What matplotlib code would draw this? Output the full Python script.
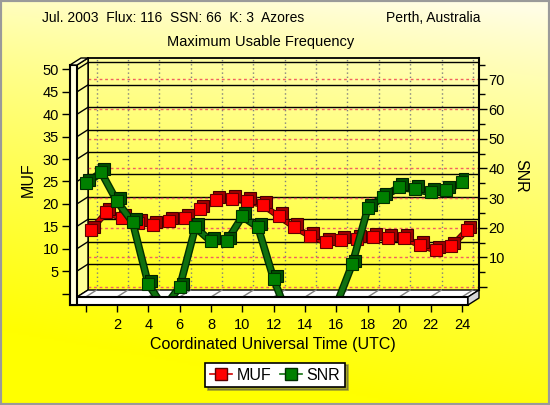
import numpy as np
import matplotlib
matplotlib.use('Agg')
import matplotlib.pyplot as plt
from matplotlib.patches import Polygon, Rectangle
from matplotlib.lines import Line2D
import matplotlib.patheffects as pe
import matplotlib.transforms as mtransforms

plt.rcParams['font.family'] = ['Liberation Sans', 'DejaVu Sans']

# data
hours = list(range(25))
muf = [14.1, 18.1, 16.8, 15.7, 15.4, 16.1, 16.8, 18.8, 20.8, 21.0, 20.6, 19.7, 17.2,
       14.8, 12.8, 11.4, 11.9, 12.1, 12.5, 12.3, 12.3, 10.8, 9.6, 10.5, 14.1]
snr = [34.9, 38.6, 28.9, 21.8, 0.9, -7.0, 0.0, 20.1, 15.4, 15.4, 23.8, 20.1, 2.6,
       -11.0, -18.0, -18.0, -6.0, 7.6, 26.5, 30.5, 33.6, 32.9, 31.9, 32.6, 35.3]
hour_ticks = list(range(0, 25, 2))
hour_labels = [''] + [str(h) for h in hour_ticks[1:]]
muf_ticks = list(range(0, 51, 5))
muf_labels = [''] + [str(m) for m in muf_ticks[1:]]
snr_ticks = list(range(0, 71, 10))
snr_labels = [''] + [str(s) for s in snr_ticks[1:]]

title_left = 'Jul. 2003  Flux: 116  SSN: 66  K: 3  Azores'
title_right = 'Perth, Australia'
title_mid = 'Maximum Usable Frequency'

W, H = 550, 405
fig = plt.figure(figsize=(W / 100, H / 100), dpi=100)


def box(x0, y0, x1, y1):
    # pixel box (top-down y) -> figure fraction rect
    return [x0 / W, 1 - y1 / H, (x1 - x0) / W, (y1 - y0) / H]


# background gradient
bg = fig.add_axes([0, 0, 1, 1], zorder=0)
yy, xx = np.mgrid[0:1:200j, 0:1:200j]
t = np.clip(yy ** 0.8 + 0.2 * (1 - xx) - 0.05, 0, 1)[..., None]
top = np.array([1.0, 0.995, 0.90])
bot = np.array([1.0, 1.0, 0.0])
bg.imshow((1 - t) * top + t * bot, aspect='auto', extent=[0, 1, 0, 1])
bg.set_axis_off()

# pixel overlays for the 3D walls
under = fig.add_axes([0, 0, 1, 1], zorder=1)
over = fig.add_axes([0, 0, 1, 1], zorder=3)
for a in (under, over):
    a.set_xlim(0, W)
    a.set_ylim(0, H)
    a.set_axis_off()
    a.patch.set_alpha(0)

XL = (-0.55, 24.39)
YL = (-0.78, 51.0)

# back wall
axb = fig.add_axes(box(88, 58, 479, 290), zorder=0.5)
axb.patch.set_alpha(0)
axb.set_xlim(*XL)
axb.set_ylim(*YL)
axb.set_xticks(hour_ticks)
axb.set_yticks(muf_ticks[1:])
axb.tick_params(length=0, labelbottom=False, labelleft=False)
axb.grid(axis='x', color='#7f7f7f', ls=(0, (1, 2)), lw=1)
axb.grid(axis='y', color='black', ls='-', lw=1)
for s in ('bottom', 'right'):
    axb.spines[s].set_visible(False)
for s in ('top', 'left'):
    axb.spines[s].set_linewidth(1.3)

axs = axb.twinx()
axs.set_zorder(0.6)
axs.patch.set_alpha(0)
axs.set_ylim(-1.01, 77.2)
axs.set_yticks(snr_ticks)
axs.set_yticklabels(snr_labels, fontsize=10.5)
axs.set_yticks(list(range(5, 76, 10)), minor=True)
axs.tick_params(axis='y', which='major', length=6, width=1, pad=1)
axs.tick_params(axis='y', which='minor', length=4, width=1)
axs.grid(axis='y', which='major', color='#f06060', ls=(0, (2, 2)), lw=1)
for s in ('top', 'bottom', 'left'):
    axs.spines[s].set_visible(False)
axs.spines['right'].set_linewidth(1.5)

# front frame with the data
axf = fig.add_axes(box(77, 65, 468, 297), zorder=2)
axf.patch.set_alpha(0)
axf.set_xlim(*XL)
axf.set_ylim(*YL)
axf.set_xticks(hour_ticks)
axf.set_xticklabels(hour_labels, fontsize=10.5)
axf.set_yticks(muf_ticks)
axf.set_yticklabels(muf_labels, fontsize=10.5)
axf.tick_params(axis='y', length=11, width=1, pad=2)
axf.tick_params(axis='x', length=11, width=1, pad=4)
for s in axf.spines.values():
    s.set_visible(False)

axg = axf.twinx()
axg.set_zorder(2.1)
axg.patch.set_alpha(0)
axg.set_ylim(-3.37, 74.82)
axg.set_axis_off()

depth = mtransforms.ScaledTranslation(0.03, 0.03, fig.dpi_scale_trans)
shift_r = mtransforms.ScaledTranslation(0.05, 0.0, fig.dpi_scale_trans)

# MUF series
tr = axf.transData + shift_r
axf.plot(hours, muf, color='#d00000', lw=3, transform=tr, zorder=2, clip_on=False,
         path_effects=[pe.Stroke(linewidth=4.5, foreground='#500000'), pe.Normal()])
axf.plot(hours, muf, ls='none', marker='s', ms=9, mfc='#a00000', mec='#400000',
         mew=0.8, transform=tr + depth, zorder=3, clip_on=False)
axf.plot(hours, muf, ls='none', marker='s', ms=9, mfc='#ff0000', mec='#600000',
         mew=0.8, transform=tr, zorder=4, clip_on=False)

# SNR series
axg.plot(hours, snr, color='#107010', lw=3.5, zorder=2,
         path_effects=[pe.Stroke(linewidth=5.5, foreground='#003000'), pe.Normal()])
axg.plot(hours, snr, ls='none', marker='s', ms=9, mfc='#005000', mec='#002000',
         mew=0.8, transform=axg.transData + depth, zorder=3)
axg.plot(hours, snr, ls='none', marker='s', ms=9, mfc='#008000', mec='#003000',
         mew=0.8, zorder=4)


def P(x, y):
    return (x, H - y)


# left wall side face and floor top (behind data)
under.add_patch(Polygon([P(77, 65), P(88, 58), P(88, 290), P(77, 297)],
                        closed=True, fc='#ffff99', ec='black', lw=1))
under.add_patch(Polygon([P(77, 297), P(88, 290), P(479, 290), P(468, 297)],
                        closed=True, fc='white', ec='black', lw=1))
fig.canvas.draw()
for m in muf_ticks[1:]:
    fx, fy = axf.transData.transform((XL[0], m))
    bx, by = axb.transData.transform((XL[0], m))
    under.plot([fx, bx], [fy, by], color='black', lw=1)
for h in hour_ticks:
    fx, fy = axf.transData.transform((h, YL[0]))
    bx, by = axb.transData.transform((h, YL[0]))
    under.plot([fx, bx], [fy, by], color='#808080', lw=1)

# front faces (over data)
over.add_patch(Rectangle(P(70, 305), 398, 8, fc='white', ec='black', lw=1.5))
over.add_patch(Polygon([P(468, 297), P(479, 290), P(479, 298), P(468, 305)],
                       closed=True, fc='#d8d8d8', ec='black', lw=1))
over.add_patch(Rectangle(P(70, 305), 7, 240, fc='#ffffe0', ec='black', lw=1.5))
over.add_patch(Polygon([P(70, 65), P(77, 65), P(88, 58), P(81, 58)],
                       closed=True, fc='#ffffcc', ec='black', lw=1))

# texts
fig.text(42 / W, 1 - 18 / H, title_left, ha='left', va='center', fontsize=10)
fig.text(481 / W, 1 - 18 / H, title_right, ha='right', va='center', fontsize=10)
fig.text(261 / W, 1 - 42 / H, title_mid, ha='center', va='center', fontsize=10.5)
fig.text(273 / W, 1 - 344 / H, 'Coordinated Universal Time (UTC)', ha='center',
         va='center', fontsize=11.5)
fig.text(28 / W, 1 - 180 / H, 'MUF', rotation=90, ha='center', va='center', fontsize=11.5)
fig.text(521 / W, 1 - 176 / H, 'SNR', rotation=270, ha='center', va='center', fontsize=11.5)

handles = [Line2D([0], [0], color='#d00000', lw=1.2, marker='s', ms=8,
                  mfc='#ff0000', mec='#600000'),
           Line2D([0], [0], color='#107010', lw=1.2, marker='s', ms=8,
                  mfc='#008000', mec='#003000')]
leg = fig.legend(handles, ['MUF', 'SNR'], loc='center',
                 bbox_to_anchor=(275 / W, 1 - 375 / H), ncol=2, fontsize=11.5,
                 frameon=True, shadow=True, fancybox=False, handlelength=1.4,
                 handletextpad=0.3, columnspacing=0.5, borderpad=0.3)
leg.get_frame().set_edgecolor('black')
leg.get_frame().set_linewidth(1.2)

# outer border
fig.patches.append(Rectangle((0, 0), 1, 1, transform=fig.transFigure, fill=False,
                             ec='#9a9a9a', lw=3, zorder=10))

fig.savefig('out.png', dpi=100)
